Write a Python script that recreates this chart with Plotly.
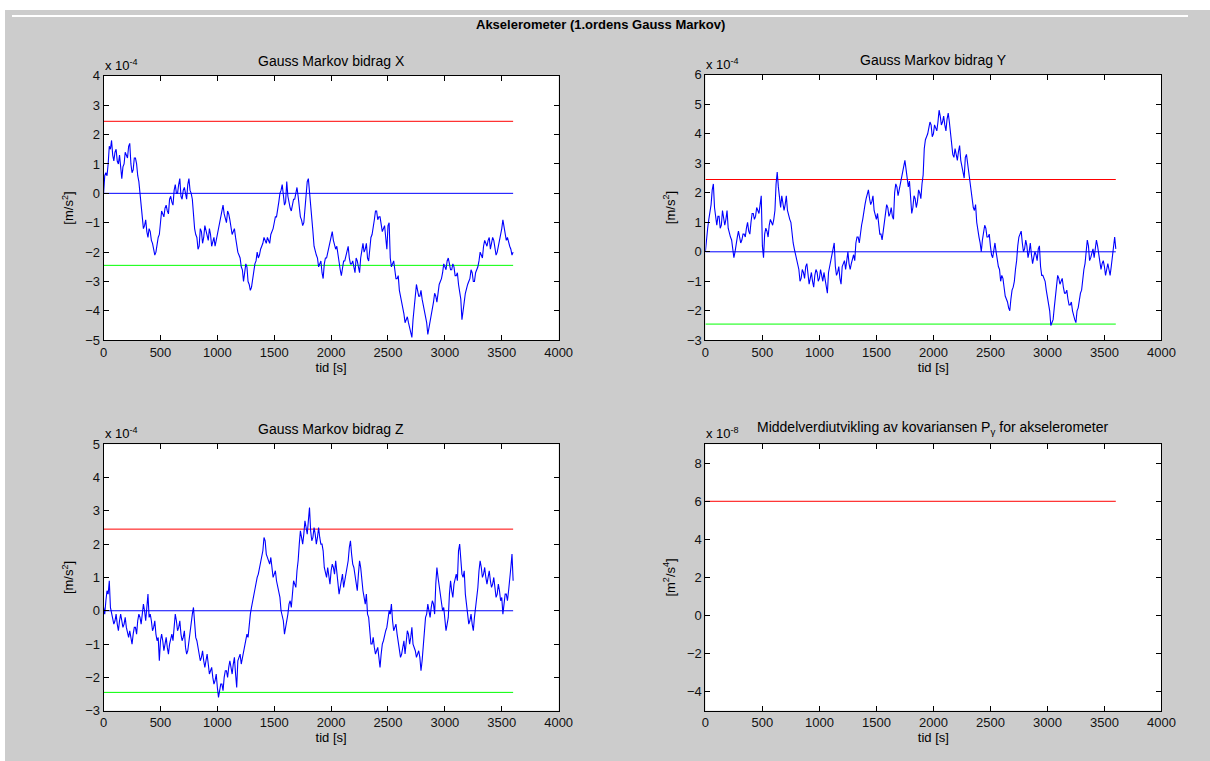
import plotly.graph_objects as go

# page is 1210 x 761; the browser puts an 8 px body margin around the figure
PAGE_W, PAGE_H = 1210, 761
OFF = 8
W, H = PAGE_W - 2 * OFF, PAGE_H - 2 * OFF

# time axis, seconds: main samples every 20 s and in-between samples (10 s offset)
tid_main = list(range(0, 3601, 20))
tid_mid = list(range(10, 3600, 20))

# Gauss Markov contributions, units of 1e-4 m/s^2
gm_x_main = [0.0, 0.7, 1.0, 1.5, 1.3, 1.4, 1.1, 1.3, 0.5, 1.0, 1.3, 1.6, 1.0, 0.8, 1.2, 0.6, 0.0, -0.9, -1.1, -1.3,
             -1.2, -1.6, -1.9, -2.0, -1.5, -0.9, -0.7, -0.5, -0.6, -0.2, -0.3, 0.1, 0.0, 0.3, -0.1, 0.1, 0.0, 0.3, 0.1, -0.2,
             -1.2, -1.5, -1.8, -1.3, -1.5, -1.3, -1.6, -1.4, -1.6, -1.8, -1.3, -1.0, -0.6, -0.7, -1.0, -0.7, -1.1, -1.3, -1.5, -2.0,
             -2.2, -2.6, -2.7, -2.5, -3.1, -3.2, -2.7, -2.3, -2.2, -1.9, -1.7, -1.6, -1.5, -1.7, -1.3, -1.0, -0.8, -0.3, 0.1, -0.1,
             -0.3, -0.1, -0.5, -0.4, -0.2, 0.2, -0.5, -0.9, -1.0, -0.2, 0.5, -0.3, -1.3, -2.0, -2.2, -2.4, -2.7, -2.4, -2.2, -1.8,
             -1.4, -1.6, -1.9, -2.1, -2.6, -2.6, -2.3, -1.9, -2.2, -2.4, -2.5, -2.2, -2.5, -2.2, -1.7, -1.9, -2.2, -1.7, -1.4, -0.9,
             -0.6, -0.8, -1.0, -1.2, -1.5, -1.1, -2.2, -2.4, -2.6, -2.9, -3.3, -3.7, -4.1, -4.3, -4.4, -4.7, -4.3, -3.4, -3.3, -3.5,
             -3.6, -3.9, -4.4, -4.6, -4.2, -3.7, -3.5, -3.3, -3.0, -2.7, -2.5, -2.3, -2.4, -2.6, -2.5, -2.8, -3.1, -3.6, -3.9, -3.4,
             -3.1, -2.9, -2.7, -3.0, -2.6, -2.3, -2.1, -1.8, -1.7, -1.6, -1.9, -1.5, -1.8, -2.0, -1.7, -1.2, -1.1, -1.6, -1.7, -1.9,
             -2.0]
gm_x_mid = [0.6, 0.6, 1.6, 1.8, 1.1, 1.5, 1.0, 0.8, 0.9, 1.4, 1.2, 1.7, 0.7, 1.2, 1.0, 0.4, -0.4, -1.2, -0.9, -1.5,
            -1.3, -1.7, -2.1, -1.7, -1.4, -0.6, -0.8, -0.4, -0.7, -0.1, -0.4, 0.3, 0.0, 0.5, -0.2, 0.2, -0.2, 0.5, 0.0, -0.9,
            -1.4, -1.9, -1.2, -1.7, -1.1, -1.5, -1.2, -1.8, -1.5, -1.6, -1.2, -0.8, -0.4, -0.9, -0.6, -0.9, -1.4, -1.2, -1.8, -2.1,
            -2.5, -3.0, -2.4, -3.0, -3.3, -2.9, -2.4, -2.0, -2.1, -1.8, -1.5, -1.7, -1.6, -1.4, -1.2, -0.8, -0.6, 0.0, 0.3, -0.4,
            0.4, -0.4, -0.6, -0.2, 0.0, -0.1, -0.8, -1.1, -0.6, 0.4, 0.1, -0.7, -1.8, -2.1, -2.5, -2.3, -2.9, -2.2, -2.0, -1.6,
            -1.3, -1.8, -1.8, -2.4, -2.8, -2.3, -2.1, -1.8, -2.4, -2.3, -2.7, -2.3, -2.7, -1.9, -2.0, -1.7, -2.3, -1.5, -1.2, -0.6,
            -0.9, -0.8, -1.3, -1.1, -1.9, -1.0, -2.5, -2.3, -2.9, -2.8, -3.5, -3.8, -4.4, -4.2, -4.6, -4.9, -3.9, -3.1, -3.5, -3.3,
            -3.8, -4.1, -4.8, -4.3, -4.0, -3.4, -3.7, -3.1, -2.9, -2.4, -2.6, -2.2, -2.6, -2.4, -2.8, -2.7, -3.3, -4.3, -3.7, -3.2,
            -3.0, -2.6, -3.0, -2.7, -2.5, -2.0, -2.2, -1.6, -1.8, -1.5, -1.7, -1.6, -2.1, -1.8, -1.5, -0.9, -1.4, -1.5, -1.8, -2.1]

gm_y_main = [0.0, 0.8, 1.3, 2.1, 1.5, 0.9, 1.2, 0.9, 1.2, 1.1, 0.8, 0.5, 0.1, 0.0, 0.5, 0.5, 0.4, 0.6, 0.8, 0.7,
             1.0, 1.3, 1.2, 1.4, 1.6, 0.2, 0.6, 0.7, 0.9, 1.0, 1.1, 2.3, 2.2, 1.5, 1.7, 1.6, 1.4, 1.1, 0.6, 0.1,
             -0.3, -0.6, -0.9, -0.7, -0.5, -0.8, -0.9, -1.0, -0.8, -0.7, -0.9, -0.8, -0.7, -1.2, -0.7, -0.3, 0.0, -0.5, -0.7, -0.9,
             -0.5, -0.3, -0.2, -0.4, -0.4, -0.1, 0.3, 0.5, 0.7, 1.1, 1.6, 2.0, 1.8, 1.7, 1.4, 1.1, 0.8, 0.6, 0.7, 1.3,
             1.5, 1.3, 1.2, 2.0, 2.2, 2.1, 2.5, 2.8, 2.8, 2.2, 1.8, 1.5, 1.8, 1.7, 2.0, 2.3, 3.5, 3.9, 4.2, 4.3,
             4.0, 4.2, 4.4, 4.6, 4.4, 4.3, 4.5, 4.4, 3.6, 3.2, 3.3, 3.4, 3.1, 2.8, 3.2, 3.0, 2.4, 1.8, 1.4, 1.0,
             0.5, 0.0, 0.6, 0.8, 0.5, 0.2, -0.2, 0.3, -0.3, -0.6, -0.8, -1.2, -1.6, -1.9, -1.6, -1.2, -0.6, 0.2, 0.6, 0.3,
             0.1, 0.2, 0.0, -0.1, -0.2, -0.1, 0.1, -0.5, -0.8, -1.0, -1.5, -2.0, -2.4, -1.9, -1.1, -0.9, -1.0, -1.2, -1.4, -1.6,
             -1.8, -2.0, -2.3, -2.0, -1.6, -1.3, -0.6, 0.1, 0.2, -0.2, 0.1, 0.1, 0.2, -0.3, -0.4, -0.5, -0.6, -0.6, -0.5, 0.2,
             0.1]
gm_y_mid = [0.5, 1.1, 1.6, 2.3, 1.1, 1.2, 0.8, 1.4, 0.9, 1.4, 0.6, 0.4, -0.2, 0.3, 0.7, 0.3, 0.6, 0.5, 1.0, 0.6,
            1.3, 1.1, 1.5, 1.3, 1.9, -0.2, 0.8, 0.5, 1.1, 0.9, 1.4, 2.7, 1.7, 1.9, 1.4, 1.9, 1.2, 1.0, 0.3, -0.1,
            -0.5, -1.0, -0.6, -0.9, -0.4, -1.1, -0.7, -1.2, -0.6, -1.0, -0.6, -1.0, -0.9, -1.4, -0.5, -0.1, 0.3, -0.8, -0.5, -1.1,
            -0.4, -0.6, 0.0, -0.6, -0.2, -0.3, 0.5, 0.3, 0.9, 1.4, 1.8, 2.1, 1.6, 1.9, 1.2, 1.3, 0.6, 0.4, 1.0, 1.6,
            1.2, 1.5, 1.1, 2.3, 1.9, 2.3, 2.7, 3.1, 2.5, 2.4, 1.3, 1.9, 1.5, 2.1, 1.8, 2.6, 3.8, 4.0, 4.4, 3.9,
            4.3, 4.1, 4.8, 4.3, 4.6, 4.1, 4.7, 4.0, 3.3, 3.5, 3.1, 3.6, 2.9, 2.5, 3.3, 2.7, 2.1, 1.5, 1.6, 0.7,
            0.3, 0.4, 0.9, 0.5, 0.6, -0.1, 0.1, 0.0, -0.5, -1.0, -0.9, -1.5, -1.7, -2.0, -1.3, -1.0, -0.3, 0.5, 0.7, 0.0,
            0.4, -0.2, 0.3, -0.4, 0.0, -0.3, 0.2, -0.8, -0.9, -1.3, -1.8, -2.5, -2.3, -1.5, -0.8, -1.1, -0.9, -1.4, -1.3, -1.8,
            -1.7, -2.2, -2.4, -1.9, -1.4, -0.9, -0.4, 0.4, -0.3, 0.0, -0.2, 0.4, -0.1, -0.6, -0.3, -0.8, -0.4, -0.8, -0.2, 0.5]

gm_z_main = [0.1, 0.3, 0.5, 0.1, -0.2, -0.3, -0.4, -0.3, -0.3, -0.4, -0.5, -0.8, -0.8, -0.7, -0.5, -0.3, -0.2, -0.1, 0.0, 0.1,
             -0.2, -0.3, -0.5, -0.7, -0.8, -0.9, -0.9, -1.0, -1.1, -1.0, -0.7, -0.5, -0.3, -0.5, -0.7, -0.8, -1.1, -1.2, -0.5, -0.1,
             -0.4, -0.9, -1.3, -1.4, -1.5, -1.5, -1.6, -1.8, -2.0, -2.1, -2.3, -2.4, -2.2, -2.0, -1.8, -1.7, -1.7, -1.6, -1.9, -1.5,
             -1.3, -1.4, -1.0, -0.7, -0.4, 0.1, 0.5, 0.8, 1.1, 1.4, 1.8, 2.1, 1.6, 1.4, 1.3, 1.1, 0.9, 0.6, 0.0, -0.3,
             -0.5, -0.1, 0.3, 0.6, 0.8, 1.2, 2.0, 2.2, 2.3, 2.5, 2.7, 2.4, 2.2, 2.3, 2.2, 2.2, 2.0, 1.3, 1.0, 1.1,
             1.2, 1.3, 1.5, 0.9, 0.7, 1.1, 0.9, 1.3, 1.9, 1.7, 1.3, 0.9, 1.1, 1.3, 0.6, 0.2, -0.1, -0.7, -1.0, -1.1,
             -1.2, -1.4, -1.3, -0.9, -0.6, -0.3, -0.1, -0.3, -0.5, -0.7, -1.1, -1.3, -0.9, -0.8, -0.7, -0.8, -1.0, -1.2, -1.3, -1.4,
             -1.5, -0.5, -0.1, 0.0, 0.1, 0.2, 0.8, 1.0, 0.5, 0.0, -0.3, -0.4, 0.5, 0.6, 0.8, 1.1, 1.8, 1.4, 1.0, 0.5,
             -0.1, -0.3, -0.4, -0.2, 0.3, 1.2, 1.3, 1.1, 1.0, 1.0, 0.9, 0.8, 0.7, 0.5, 0.6, 0.4, 0.2, 0.5, 0.6, 1.3,
             0.9]
gm_z_mid = [-0.1, 0.6, 0.9, -0.1, -0.4, -0.1, -0.6, -0.1, -0.5, -0.2, -0.7, -0.6, -1.0, -0.5, -0.7, -0.1, -0.4, 0.2, -0.3, 0.5,
            -0.1, -0.6, -0.3, -0.9, -1.5, -0.7, -1.2, -0.8, -1.3, -0.8, -0.9, -0.1, -0.6, -0.3, -0.9, -0.6, -1.3, -0.9, -0.3, 0.1,
            -0.8, -1.1, -1.5, -1.2, -1.7, -1.3, -1.9, -1.7, -2.2, -1.9, -2.6, -2.2, -2.4, -1.8, -2.0, -1.5, -1.9, -1.4, -2.3, -1.4,
            -1.6, -1.2, -0.9, -0.8, -0.1, 0.3, 0.6, 1.0, 1.3, 1.6, 2.2, 1.7, 1.5, 1.6, 1.0, 1.2, 0.7, 0.4, -0.2, -0.7,
            -0.4, 0.2, 0.1, 0.9, 0.7, 1.5, 2.4, 2.0, 2.7, 2.3, 3.1, 2.1, 2.5, 2.0, 2.5, 2.0, 1.8, 1.1, 1.3, 0.8,
            1.4, 1.1, 1.2, 0.5, 1.0, 0.7, 1.2, 1.5, 2.1, 1.4, 1.1, 0.6, 1.5, 0.9, 0.4, 0.5, -0.2, -1.0, -0.8, -1.3,
            -1.1, -1.7, -1.0, -0.7, -0.5, 0.0, 0.2, -0.6, -0.4, -0.9, -1.4, -1.1, -1.3, -0.6, -1.0, -0.5, -1.1, -1.4, -1.2, -1.8,
            -1.1, -0.2, 0.2, -0.2, 0.3, -0.1, 1.3, 0.7, 0.3, 0.1, -0.6, -0.2, 0.9, 0.4, 1.0, 0.9, 2.0, 1.1, 1.2, 0.2,
            -0.4, -0.1, -0.6, 0.1, 0.7, 1.5, 1.0, 1.3, 0.8, 1.2, 0.7, 1.0, 0.4, 0.8, 0.3, -0.1, 0.5, 0.3, 0.9, 1.7]

# 1-sigma bounds (1e-4 m/s^2) and mean covariance (1e-8 m^2/s^4)
sigma = 2.45
p_gamma = 6.0
t_end = 3600


def merge(t_a, v_a, t_b, v_b):
    pts = sorted(zip(t_a + t_b, v_a + v_b))
    return [p[0] for p in pts], [p[1] for p in pts]


FONT = "Liberation Sans, Arial, Helvetica, sans-serif"
BLUE, RED, GREEN = "#0000ff", "#ff0000", "#00ff00"
GREY = "#cccccc"


def px(x):  # page x pixel -> paper fraction
    return (x - OFF) / W


def py(y):  # page y pixel -> paper fraction
    return 1 - (y - OFF) / H


# axis boxes in page pixels (left, top, right, bottom)
boxes = {
    1: (101, 70, 563, 340),
    2: (712, 69, 1175, 340),
    3: (101, 446, 563, 718),
    4: (712, 446, 1175, 718),
}
yranges = {1: [-5, 4], 2: [-3, 6], 3: [-3, 5], 4: [-5, 9]}
ydticks = {1: 1, 2: 1, 3: 1, 4: 2}
titles = {1: "Gauss Markov bidrag X", 2: "Gauss Markov bidrag Y", 3: "Gauss Markov bidrag Z",
          4: "Middelverdiutvikling av kovariansen P<sub>γ</sub> for akselerometer"}
exps = {1: "-4", 2: "-4", 3: "-4", 4: "-8"}
ylabels = {1: "[m/s<sup>2</sup>]", 2: "[m/s<sup>2</sup>]", 3: "[m/s<sup>2</sup>]", 4: "[m<sup>2</sup>/s<sup>4</sup>]"}

fig = go.Figure()


def ax(i, kind):
    return f"{kind}{'' if i == 1 else i}"


series = {1: (gm_x_main, gm_x_mid), 2: (gm_y_main, gm_y_mid), 3: (gm_z_main, gm_z_mid)}
for i in (1, 2, 3):
    xa, ya = ax(i, "x"), ax(i, "y")
    tt, vv = merge(tid_main, series[i][0], tid_mid, series[i][1])
    fig.add_trace(go.Scatter(x=[0, t_end], y=[sigma, sigma], mode="lines", line=dict(color=RED, width=1),
                             xaxis=xa, yaxis=ya, showlegend=False))
    fig.add_trace(go.Scatter(x=[0, t_end], y=[-sigma, -sigma], mode="lines", line=dict(color=GREEN, width=1),
                             xaxis=xa, yaxis=ya, showlegend=False))
    fig.add_trace(go.Scatter(x=tt, y=vv, mode="lines", line=dict(color=BLUE, width=1.1),
                             xaxis=xa, yaxis=ya, showlegend=False, hoverinfo="skip"))
    fig.add_trace(go.Scatter(x=[0, t_end], y=[0, 0], mode="lines", line=dict(color=BLUE, width=1),
                             xaxis=xa, yaxis=ya, showlegend=False))
fig.add_trace(go.Scatter(x=[0, t_end], y=[p_gamma, p_gamma], mode="lines", line=dict(color=RED, width=1),
                         xaxis="x4", yaxis="y4", showlegend=False))

layout = dict(width=W, height=H, margin=dict(l=0, r=0, t=0, b=0), autosize=False,
              paper_bgcolor=GREY, plot_bgcolor="white", showlegend=False,
              font=dict(family=FONT, size=13, color="black"))
annotations = []
# white strip along the top edge of the figure window (continues the page's top strip)
shapes = [dict(type="rect", xref="paper", yref="paper", x0=0, x1=1, y0=py(10), y1=1,
               fillcolor="white", line=dict(width=0), layer="below")]

for i, (l, t, r, b) in boxes.items():
    xk = "xaxis" if i == 1 else f"xaxis{i}"
    yk = "yaxis" if i == 1 else f"yaxis{i}"
    common = dict(showline=True, linecolor="black", linewidth=1, mirror="allticks", ticks="inside",
                  ticklen=5, tickcolor="black", showgrid=False, zeroline=False,
                  tickfont=dict(family=FONT, size=13, color="#111111"))
    layout[xk] = dict(domain=[px(l), px(r)], range=[0, 4000], dtick=500, tick0=0,
                      anchor=ax(i, "y"), title=dict(text="tid [s]", standoff=1,
                                                    font=dict(family=FONT, size=13)), **common)
    layout[yk] = dict(domain=[py(b), py(t)], range=yranges[i], dtick=ydticks[i],
                      anchor=ax(i, "x"), title=dict(text=ylabels[i], standoff=8,
                                                    font=dict(family=FONT, size=13)), **common)
    annotations.append(dict(text=titles[i], xref="paper", yref="paper", x=px((l + r) / 2),
                            y=py(t - 5), xanchor="center", yanchor="bottom", showarrow=False,
                            font=dict(family=FONT, size=14)))
    annotations.append(dict(text=f"x 10<sup>{exps[i]}</sup>", xref="paper", yref="paper", x=px(l - 1),
                            y=py(t - 1), xanchor="left", yanchor="bottom", showarrow=False,
                            font=dict(family=FONT, size=13)))

annotations.append(dict(text="<b>Akselerometer (1.ordens Gauss Markov)</b>", xref="paper", yref="paper",
                        x=px(605), y=py(18), xanchor="center", yanchor="middle", showarrow=False,
                        font=dict(family=FONT, size=13)))
layout["annotations"] = annotations
layout["shapes"] = shapes
fig.update_layout(**layout)

# page: grey window with a white strip along the top (10 px) and the left edge (5 px);
# the strips sit in the body margin / the figure's own white top strip, so they cover nothing
page_js = (
    "document.body.style.backgroundColor='" + GREY + "';"
    "[['0px','0px','100%','10px'],['0px','0px','5px','100%']].forEach(function(s){"
    "var d=document.createElement('div');"
    "d.style.position='fixed';d.style.zIndex='1000';d.style.background='#ffffff';"
    "d.style.left=s[0];d.style.top=s[1];d.style.width=s[2];d.style.height=s[3];"
    "d.style.pointerEvents='none';"
    "document.body.appendChild(d);});"
)
fig.write_html("out.html", config={"displayModeBar": False}, post_script=page_js)
